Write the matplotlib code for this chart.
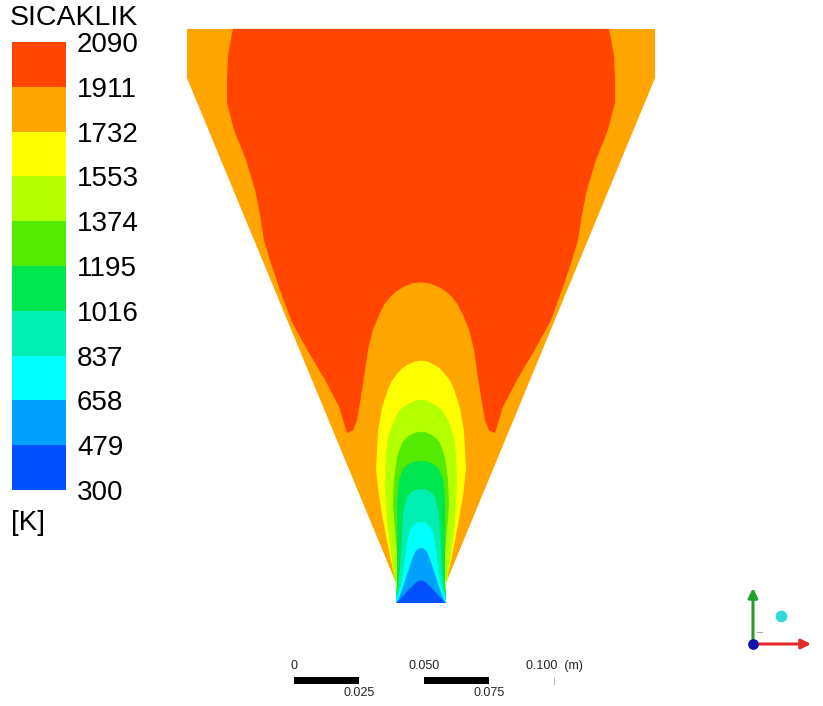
import numpy as np
import matplotlib.pyplot as plt
from matplotlib.colors import ListedColormap, BoundaryNorm
from matplotlib.cm import ScalarMappable
from matplotlib.patches import Polygon, Rectangle

plt.rcParams['font.family'] = ['Liberation Sans', 'DejaVu Sans']

# temperature bands (K) and their colours, coldest first
levels = [300, 479, 658, 837, 1016, 1195, 1374, 1553, 1732, 1911, 2090]
band_colors = ['#0050ff', '#00a0ff', '#00ffff', '#00f0b4', '#00e650',
               '#55eb00', '#b4ff00', '#ffff00', '#ffa500', '#ff4500']

# burner cross-section, right half (r, z in mm, z from nozzle exit)
wall_r = [9.6, 9.6, 90.0, 90.0]
wall_z = [0.0, 7.7, 201.9, 220.8]

# isotherm half-profiles (r, z in mm), read top -> bottom
red_r = [72.3, 74.2, 74.6, 74.6, 71.9, 67.3, 63.8, 61.9, 60.4, 58.1, 54.6,
         50.0, 43.1, 36.9, 31.5, 28.5, 22.0, 0.0]
red_z = [221.0, 210.8, 201.2, 192.3, 181.9, 170.4, 158.8, 149.2, 139.6, 131.9,
         121.5, 108.8, 96.2, 85.8, 75.4, 65.4, 68.0, 68.0]

plume_r = [0.0, 3.5, 6.9, 9.6, 11.9, 14.0, 15.8, 18.5, 20.4, 21.5, 23.1,
           24.6, 26.5, 27.3, 0.0]
plume_z = [123.3, 122.9, 121.5, 119.8, 117.7, 115.0, 111.5, 105.0, 97.3,
           89.6, 79.2, 70.4, 65.4, 51.2, 51.2]

yellow_r = [0.0, 2.3, 5.4, 7.5, 9.2, 11.2, 12.7, 15.0, 16.5, 16.9, 17.3,
            16.2, 14.6, 12.7, 11.2, 9.6, 10.0]
yellow_z = [93.2, 92.9, 91.5, 90.0, 88.1, 85.4, 82.3, 75.0, 66.5, 58.8, 51.2,
            41.5, 31.9, 22.3, 14.6, 7.7, 0.0]

ygreen_r = [0.0, 1.9, 4.2, 6.3, 8.1, 10.8, 12.7, 13.5, 13.8, 13.5, 12.7,
            11.5, 10.4, 10.0]
ygreen_z = [78.1, 77.9, 76.9, 75.7, 74.2, 69.6, 63.8, 56.2, 47.3, 37.7, 28.1,
            18.5, 10.8, 0.0]

green_r = [0.0, 1.9, 4.2, 6.0, 7.3, 9.2, 10.4, 10.8, 10.0, 9.2, 8.5, 10.0]
green_z = [65.8, 65.6, 64.6, 63.2, 61.5, 56.2, 47.3, 37.7, 28.1, 18.5, 10.8, 0.0]

green2_r = [0.0, 2.3, 4.2, 5.8, 6.9, 8.5, 9.2, 9.2, 9.2, 9.2, 9.2, 10.0]
green2_z = [54.6, 54.4, 53.7, 52.7, 51.5, 47.3, 39.6, 30.0, 20.4, 12.7, 6.9, 0.0]

teal_r = [0.0, 1.9, 3.5, 4.8, 5.8, 6.9, 7.3, 7.7, 8.1, 8.8, 10.0]
teal_z = [43.8, 43.6, 42.7, 41.4, 39.6, 33.8, 26.2, 18.5, 12.7, 6.9, 0.0]

cyan_r = [0.0, 1.7, 3.1, 4.2, 5.0, 5.8, 6.5, 7.3, 8.5, 10.0]
cyan_z = [31.2, 30.9, 29.6, 27.8, 25.4, 20.4, 14.6, 8.8, 4.2, 0.0]

lblue_r = [0.0, 1.2, 2.3, 3.8, 5.4, 6.9, 8.5, 9.2, 10.0]
lblue_z = [21.2, 20.8, 19.6, 15.8, 10.8, 6.2, 1.9, 0.0, 0.0]

blue_r = [0.0, 1.8, 3.5, 5.2, 6.5, 8.2, 9.6, 10.0]
blue_z = [8.8, 8.0, 6.4, 4.6, 3.1, 1.4, 0.0, 0.0]

# scale bar (m)
scale_ticks = [0, 0.025, 0.050, 0.075, 0.100]


def mirrored(r, z):
    r = np.asarray(r)
    z = np.asarray(z)
    return np.r_[r, -r[::-1]], np.r_[z, z[::-1]]


px_mm = 2.6  # pixels per mm
fig = plt.figure(figsize=(8.23, 7.06), dpi=100)
ax = fig.add_axes([0, 0, 1, 1])
ax.set_xlim(-421 / px_mm, (823 - 421) / px_mm)
ax.set_ylim((603 - 706) / px_mm, 603 / px_mm)
ax.axis('off')

# domain, filled with the 1732-1911 band
wx, wz = mirrored(wall_r, wall_z)
domain = Polygon(np.c_[wx, wz], closed=True, facecolor=band_colors[8],
                 edgecolor='none')
ax.add_patch(domain)

layers = [
    (red_r, red_z, 9),
    (plume_r, plume_z, 8),
    (yellow_r, yellow_z, 7),
    (ygreen_r, ygreen_z, 6),
    (green_r, green_z, 5),
    (green2_r, green2_z, 4),
    (teal_r, teal_z, 3),
    (cyan_r, cyan_z, 2),
    (lblue_r, lblue_z, 1),
    (blue_r, blue_z, 0),
]
for r, z, band in layers:
    x, y = mirrored(r, z)
    for p in ax.fill(x, y, color=band_colors[band], lw=0):
        p.set_clip_path(domain)

# legend bar
cax = fig.add_axes([12 / 823, 1 - 490 / 706, 54 / 823, 448 / 706])
sm = ScalarMappable(norm=BoundaryNorm(levels, len(band_colors)),
                    cmap=ListedColormap(band_colors))
cb = fig.colorbar(sm, cax=cax, ticks=levels)
cb.outline.set_visible(False)
cax.set_yticklabels([str(v) for v in levels])
cax.tick_params(length=0, pad=8, labelsize=20)

fig.text(10 / 823, 1 - 18 / 706, 'SICAKLIK', fontsize=20.5, ha='left', va='center')
fig.text(11 / 823, 1 - 523 / 706, '[K]', fontsize=20, ha='left', va='center')

# scale bar
sb_x0 = (294 - 421) / px_mm
sb_y = (603 - 684) / px_mm
sb_h = 7 / px_mm
for a, b in [(0, 1), (2, 3)]:
    x0 = sb_x0 + scale_ticks[a] * 1000
    ax.add_patch(Rectangle((x0, sb_y), (scale_ticks[b] - scale_ticks[a]) * 1000,
                           sb_h, color='black', lw=0))
for i, t in enumerate(scale_ticks):
    xt = sb_x0 + t * 1000
    lab = '0' if t == 0 else f'{t:.3f}'
    if i == len(scale_ticks) - 1:
        lab += '  (m)'
        ax.plot([xt, xt], [sb_y, sb_y + sb_h], color='#bbbbbb', lw=0.8)
    if i % 2 == 0:
        ax.text(xt, sb_y + sb_h + 4.2, lab, fontsize=9, color='#222222',
                ha='center', va='center')
    else:
        ax.text(xt, sb_y - 3.4, lab, fontsize=9, color='#222222',
                ha='center', va='center')

# axis triad
tri = fig.add_axes([740 / 823, 1 - 655 / 706, 80 / 823, 75 / 706])
tri.set_xlim(740, 820)
tri.set_ylim(655, 580)
tri.axis('off')
tri.annotate('', xy=(753, 588), xytext=(753, 644),
             arrowprops=dict(arrowstyle='-|>', color='#22a02a', lw=2.2,
                             mutation_scale=14, shrinkA=0, shrinkB=0))
tri.annotate('', xy=(811, 644), xytext=(753, 644),
             arrowprops=dict(arrowstyle='-|>', color='#e8282a', lw=2.2,
                             mutation_scale=14, shrinkA=0, shrinkB=0))
tri.plot([757, 762], [632, 632], color='#aaaaaa', lw=0.8)
tri.scatter([753], [644], s=45, color='#1010b0', zorder=5)
tri.scatter([781], [616], s=55, color='#30d8d8', zorder=5)

fig.savefig('out.png', dpi=100)
